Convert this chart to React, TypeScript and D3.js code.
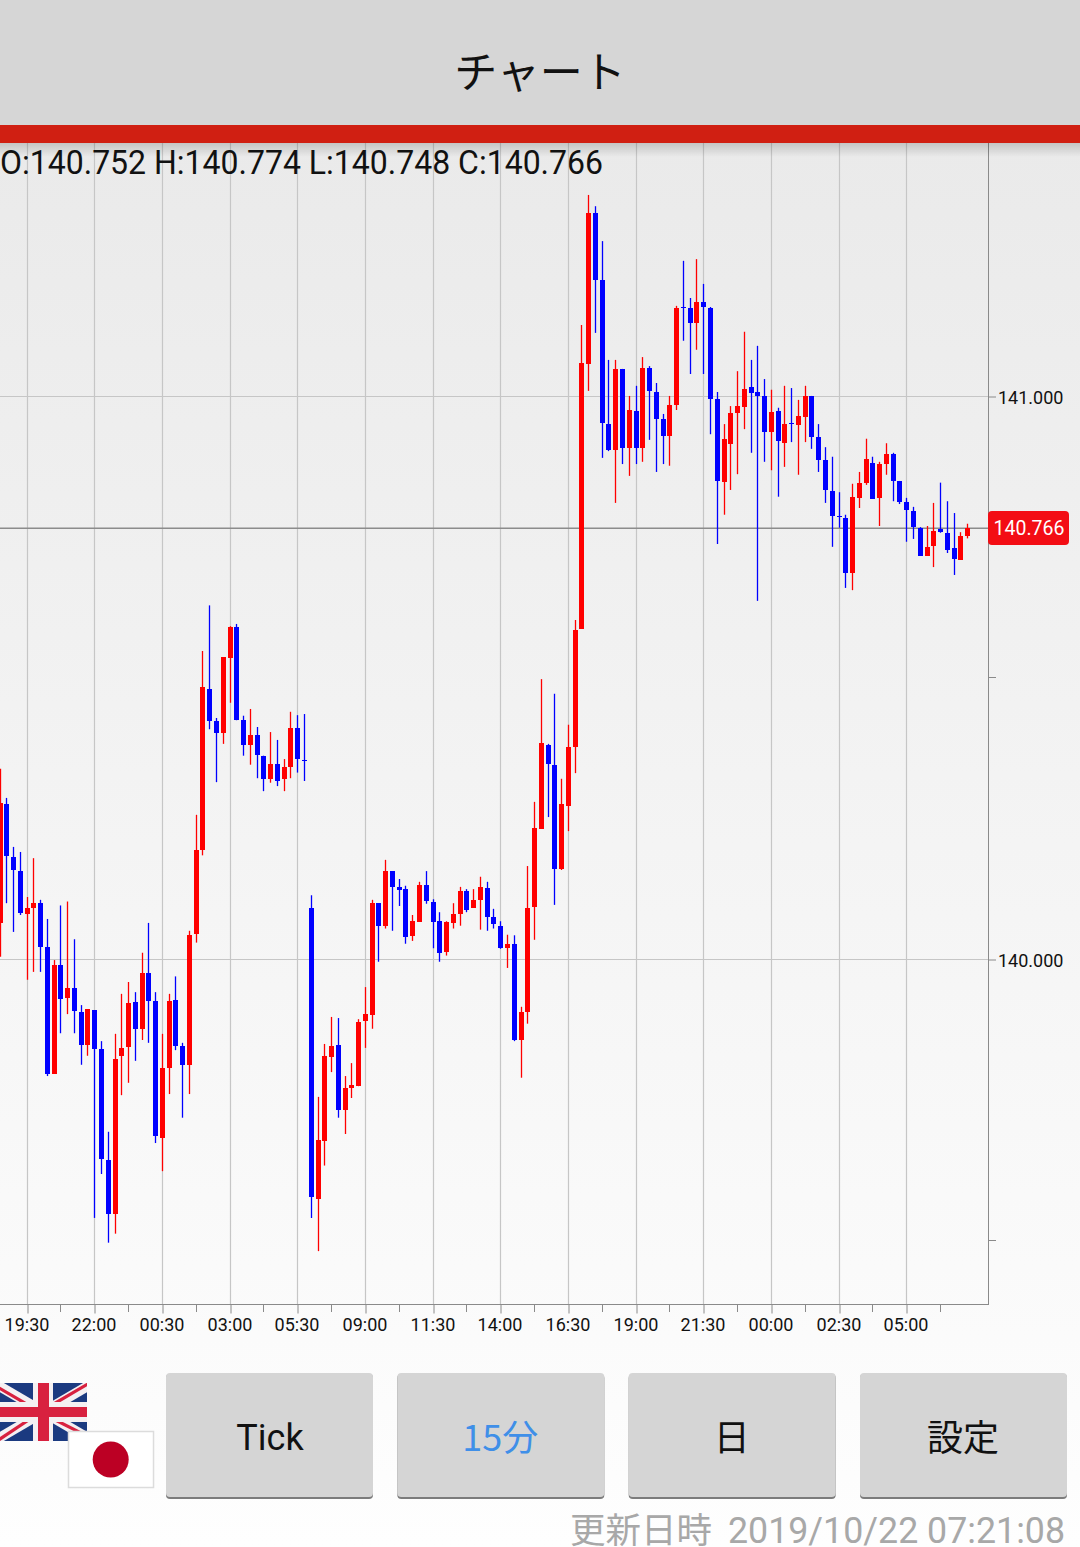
import { useRef, useEffect } from 'react';
import * as d3 from 'd3';

const opens = [
  140.065, 140.276, 140.182, 140.157, 140.081, 140.092, 140.100, 140.022, 139.797, 139.990,
  139.931, 139.949, 139.907, 139.848, 139.910, 139.841, 139.644, 139.548, 139.829, 139.845,
  139.925, 139.877, 139.976, 139.926, 139.683, 139.807, 139.928, 139.846, 139.813, 140.045,
  140.194, 140.481, 140.424, 140.402, 140.536, 140.591, 140.425, 140.381, 140.399, 140.362,
  140.321, 140.347, 140.321, 140.342, 140.411, 140.354, 140.092, 139.575, 139.678, 139.827,
  139.848, 139.733, 139.772, 139.775, 139.890, 139.901, 140.100, 140.060, 140.157, 140.129,
  140.125, 140.042, 140.067, 140.132, 140.103, 140.068, 140.014, 140.065, 140.081, 140.122,
  140.092, 140.106, 140.127, 140.075, 140.060, 140.021, 140.028, 139.857, 139.907, 140.092,
  140.233, 140.381, 140.346, 140.161, 140.274, 140.378, 140.587, 141.058, 141.326, 141.207,
  140.951, 140.905, 141.049, 140.909, 140.974, 140.909, 141.051, 141.008, 140.960, 140.930,
  140.985, 141.159, 141.157, 141.131, 141.168, 141.157, 140.996, 140.849, 140.916, 140.971,
  140.981, 141.017, 141.008, 141.001, 140.937, 140.974, 140.917, 140.953, 140.949, 140.963,
  141.001, 140.928, 140.887, 140.832, 140.788, 140.784, 140.687, 140.820, 140.846, 140.882,
  140.820, 140.880, 140.898, 140.850, 140.813, 140.797, 140.766, 140.717, 140.734, 140.765,
  140.758, 140.731, 140.710, 140.752,
];

const closes = [
  140.278, 140.184, 140.159, 140.083, 140.092, 140.100, 140.022, 139.797, 139.990, 139.930,
  139.949, 139.909, 139.848, 139.912, 139.841, 139.646, 139.548, 139.823, 139.843, 139.923,
  139.877, 139.976, 139.926, 139.687, 139.807, 139.926, 139.846, 139.813, 140.044, 140.194,
  140.484, 140.424, 140.402, 140.537, 140.591, 140.425, 140.381, 140.399, 140.363, 140.321,
  140.347, 140.317, 140.342, 140.411, 140.356, 140.353, 139.578, 139.680, 139.829, 139.846,
  139.733, 139.772, 139.777, 139.889, 139.903, 140.100, 140.060, 140.157, 140.129, 140.124,
  140.040, 140.068, 140.132, 140.103, 140.068, 140.012, 140.067, 140.081, 140.122, 140.088,
  140.106, 140.129, 140.075, 140.063, 140.021, 140.028, 139.857, 139.907, 140.092, 140.233,
  140.385, 140.347, 140.161, 140.276, 140.378, 140.585, 141.059, 141.326, 141.207, 140.953,
  140.905, 141.049, 140.909, 140.976, 140.909, 141.051, 141.010, 140.960, 140.930, 140.985,
  141.157, 141.157, 141.131, 141.168, 141.159, 140.996, 140.850, 140.925, 140.971, 140.983,
  141.013, 141.006, 141.001, 140.937, 140.973, 140.921, 140.951, 140.951, 140.965, 141.001,
  140.928, 140.887, 140.834, 140.788, 140.786, 140.687, 140.822, 140.846, 140.889, 140.818,
  140.880, 140.898, 140.850, 140.813, 140.798, 140.768, 140.717, 140.733, 140.761, 140.759,
  140.727, 140.711, 140.752, 140.766,
];

const highs = [
  140.339, 140.287, 140.200, 140.191, 140.111, 140.180, 140.106, 140.072, 139.999, 140.096,
  140.103, 140.036, 139.919, 139.912, 139.910, 139.855, 139.694, 139.868, 139.939, 139.960,
  139.942, 140.012, 140.065, 139.942, 139.868, 139.939, 139.970, 139.852, 140.051, 140.257,
  140.548, 140.629, 140.429, 140.537, 140.592, 140.596, 140.433, 140.445, 140.413, 140.362,
  140.404, 140.390, 140.356, 140.440, 140.434, 140.436, 140.114, 139.756, 139.850, 139.898,
  139.896, 139.793, 139.816, 139.894, 139.951, 140.106, 140.100, 140.177, 140.157, 140.143,
  140.131, 140.079, 140.138, 140.157, 140.107, 140.084, 140.068, 140.100, 140.129, 140.125,
  140.125, 140.147, 140.138, 140.090, 140.068, 140.044, 140.043, 139.916, 140.166, 140.280,
  140.498, 140.383, 140.472, 140.321, 140.417, 140.603, 141.127, 141.358, 141.338, 141.276,
  141.065, 141.065, 141.049, 141.001, 141.019, 141.070, 141.054, 141.024, 140.969, 141.001,
  141.161, 141.241, 141.175, 141.244, 141.200, 141.159, 141.008, 140.951, 140.983, 141.045,
  141.115, 141.065, 141.090, 141.031, 141.012, 140.980, 141.019, 141.015, 140.994, 141.019,
  141.001, 140.951, 140.910, 140.893, 140.830, 140.790, 140.845, 140.866, 140.925, 140.893,
  140.884, 140.917, 140.900, 140.850, 140.820, 140.804, 140.768, 140.770, 140.811, 140.847,
  140.814, 140.793, 140.759, 140.774,
];

const lows = [
  140.005, 140.100, 140.049, 140.079, 139.964, 139.978, 139.978, 139.793, 139.797, 139.869,
  139.903, 139.869, 139.813, 139.829, 139.541, 139.619, 139.497, 139.513, 139.759, 139.781,
  139.820, 139.857, 139.852, 139.674, 139.624, 139.761, 139.839, 139.719, 139.761, 140.030,
  140.185, 140.409, 140.315, 140.383, 140.456, 140.425, 140.362, 140.346, 140.322, 140.299,
  140.314, 140.308, 140.299, 140.322, 140.332, 140.317, 139.541, 139.482, 139.634, 139.800,
  139.719, 139.690, 139.754, 139.775, 139.843, 139.877, 139.996, 140.055, 140.051, 140.095,
  140.028, 140.033, 140.067, 140.099, 140.020, 139.996, 140.007, 140.055, 140.060, 140.084,
  140.092, 140.053, 140.051, 140.055, 140.019, 139.985, 139.855, 139.790, 139.886, 140.035,
  140.233, 140.253, 140.097, 140.159, 140.228, 140.331, 140.587, 141.010, 141.113, 140.891,
  140.903, 140.811, 140.880, 140.859, 140.880, 140.884, 140.923, 140.866, 140.880, 140.877,
  140.976, 141.099, 141.040, 141.083, 141.040, 140.933, 140.738, 140.790, 140.834, 140.862,
  140.942, 140.900, 140.637, 140.884, 140.869, 140.822, 140.875, 140.919, 140.861, 140.919,
  140.907, 140.866, 140.811, 140.733, 140.767, 140.660, 140.656, 140.802, 140.843, 140.818,
  140.770, 140.861, 140.814, 140.809, 140.742, 140.747, 140.717, 140.717, 140.697, 140.758,
  140.722, 140.683, 140.710, 140.748,
];

const timeLabels = [
  '19:30', '22:00', '00:30', '03:00', '05:30', '09:00', '11:30',
  '14:00', '16:30', '19:00', '21:30', '00:00', '02:30', '05:00',
];
const priceGrid = [140, 141];
const priceMinor = [139.5, 140.5];
const buttonLabels = ['Tick', '15分', '日', '設定'];
const ohlcText = 'O:140.752 H:140.774 L:140.748 C:140.766';
const updatedLabel = '更新日時';
const updatedStamp = '2019/10/22 07:21:08';
const lastPrice = 140.766;

const width = 1080;
const height = 1547;
const RED = '#ff0000';
const BLUE = '#0000ff';
const GRID = '#c6c6c6';
const AXIS = '#8a8a8a';
const sans = 'Roboto, sans-serif';
const cjk = '"Noto Sans CJK JP", sans-serif';

const App: React.FC = () => {
  const svgRef = useRef<SVGSVGElement | null>(null);

  useEffect(() => {
    const svg = d3.select(svgRef.current);
    svg.selectAll('*').remove();

    const plotRight = 988;
    const plotTop = 143;
    const plotBottom = 1305;

    const x = d3.scaleLinear().domain([0, opens.length - 1]).range([0, 967.6]);
    const y = d3.scaleLinear().domain([140, 141]).range([959.5, 396.5]);
    const px = (i: number) => Math.floor(x(i));
    const py = (v: number) => Math.floor(y(v) - 0.5) + 0.5;

    const defs = svg.append('defs');
    const bg = defs.append('linearGradient').attr('id', 'bg').attr('x1', 0).attr('x2', 0).attr('y1', 0).attr('y2', 1);
    bg.append('stop').attr('offset', '0%').attr('stop-color', '#eaeaea');
    bg.append('stop').attr('offset', '100%').attr('stop-color', '#fefefe');
    const shade = defs.append('linearGradient').attr('id', 'shade').attr('x1', 0).attr('x2', 0).attr('y1', 0).attr('y2', 1);
    shade.append('stop').attr('offset', '0%').attr('stop-color', '#000').attr('stop-opacity', 0.16);
    shade.append('stop').attr('offset', '100%').attr('stop-color', '#000').attr('stop-opacity', 0);

    svg.append('rect').attr('x', 0).attr('y', plotTop).attr('width', width).attr('height', height - plotTop).attr('fill', 'url(#bg)');

    // vertical grid, one line every 10 candles
    const labelIdx = timeLabels.map((_, i) => 4 + i * 10);
    const minorIdx = d3.range(9, 140, 10);
    svg.append('g').selectAll('line').data(labelIdx).enter().append('line')
      .attr('x1', d => px(d) + 0.5).attr('x2', d => px(d) + 0.5)
      .attr('y1', plotTop).attr('y2', plotBottom)
      .attr('stroke', GRID).attr('stroke-width', 1.2);

    // horizontal grid
    svg.append('g').selectAll('line').data(priceGrid).enter().append('line')
      .attr('x1', 0).attr('x2', plotRight)
      .attr('y1', d => py(d)).attr('y2', d => py(d))
      .attr('stroke', GRID).attr('stroke-width', 1.2);

    // time axis
    const xAxis = svg.append('g')
      .attr('transform', `translate(0,${plotBottom - 0.5})`)
      .call(d3.axisBottom(d3.scaleIdentity())
        .tickValues(labelIdx.map(d => px(d) + 0.5))
        .tickFormat((_, i) => timeLabels[i])
        .tickSize(9)
        .tickPadding(5)
        .tickSizeOuter(0));
    xAxis.select('.domain').remove();
    xAxis.selectAll('line').attr('stroke', AXIS);
    xAxis.selectAll('text').attr('fill', '#111').attr('dx', -1).style('font-family', sans).style('font-size', '18px');

    svg.append('line').attr('x1', 0).attr('x2', plotRight + 0.5)
      .attr('y1', plotBottom - 0.5).attr('y2', plotBottom - 0.5).attr('stroke', AXIS);
    svg.append('g').selectAll('line').data(minorIdx).enter().append('line')
      .attr('x1', d => px(d) + 0.5).attr('x2', d => px(d) + 0.5)
      .attr('y1', plotBottom).attr('y2', plotBottom + 7)
      .attr('stroke', AXIS);
    svg.append('line').attr('x1', plotRight + 0.5).attr('x2', plotRight + 0.5)
      .attr('y1', plotTop).attr('y2', plotBottom).attr('stroke', AXIS);

    // price axis
    const yAxis = svg.append('g')
      .attr('transform', `translate(${plotRight},0)`)
      .call(d3.axisRight(y).tickValues(priceGrid).tickFormat(d3.format('.3f')).tickSize(8).tickPadding(2).tickSizeOuter(0));
    yAxis.select('.domain').remove();
    yAxis.selectAll('line').attr('stroke', AXIS);
    yAxis.selectAll('text').attr('fill', '#111').attr('dy', '0.375em')
      .style('font-family', sans).style('font-size', '18px');
    svg.append('g').selectAll('line').data(priceMinor).enter().append('line')
      .attr('x1', plotRight).attr('x2', plotRight + 8)
      .attr('y1', d => py(d)).attr('y2', d => py(d))
      .attr('stroke', AXIS);

    // last price line
    svg.append('line').attr('x1', 0).attr('x2', plotRight)
      .attr('y1', y(lastPrice)).attr('y2', y(lastPrice))
      .attr('stroke', '#8c8c8c').attr('stroke-width', 1.4);

    // candles
    const color = (i: number) => (closes[i] >= opens[i] ? RED : BLUE);
    const idx = d3.range(opens.length);
    const candles = svg.append('g');
    candles.selectAll('.wick').data(idx).enter().append('line')
      .attr('class', 'wick')
      .attr('x1', d => px(d) + 0.5).attr('x2', d => px(d) + 0.5)
      .attr('y1', d => y(highs[d])).attr('y2', d => y(lows[d]))
      .attr('stroke', d => color(d)).attr('stroke-width', 1.3);
    candles.selectAll('.body').data(idx).enter().append('rect')
      .attr('class', 'body')
      .attr('x', d => px(d) - 2).attr('width', 5)
      .attr('y', d => Math.round(y(Math.max(opens[d], closes[d]))))
      .attr('height', d => Math.max(1, Math.round(Math.abs(y(opens[d]) - y(closes[d])))))
      .attr('fill', d => color(d));

    svg.append('rect').attr('x', plotRight).attr('y', 511).attr('width', 81).attr('height', 34).attr('rx', 4).attr('fill', '#f30d14');
    svg.append('text').attr('x', plotRight + 41).attr('y', 535).attr('text-anchor', 'middle')
      .attr('fill', '#fff').style('font-family', sans).style('font-size', '19.5px').text(d3.format('.3f')(lastPrice));

    // header
    svg.append('rect').attr('x', 0).attr('y', 143).attr('width', width).attr('height', 14).attr('fill', 'url(#shade)');
    svg.append('rect').attr('width', width).attr('height', 125).attr('fill', '#d6d6d6');
    svg.append('rect').attr('y', 125).attr('width', width).attr('height', 18).attr('fill', '#d01f12');
    svg.append('text').attr('x', 540).attr('y', 88).attr('text-anchor', 'middle')
      .style('font-family', cjk).style('font-size', '43px').attr('fill', '#111').text('チャート');
    svg.append('text').attr('x', 0).attr('y', 174).attr('fill', '#111')
      .attr('textLength', 603).attr('lengthAdjust', 'spacingAndGlyphs')
      .style('font-family', sans).style('font-size', '33px').text(ohlcText);

    // union jack
    const fw = 87;
    const fh = 58;
    defs.append('clipPath').attr('id', 'ukclip').append('rect').attr('width', fw).attr('height', fh);
    const ukInner = svg.append('g').attr('transform', 'translate(0,1383)').append('g').attr('clip-path', 'url(#ukclip)');
    ukInner.append('rect').attr('width', fw).attr('height', fh).attr('fill', '#1b3a80');
    const cx = fw / 2;
    const cy = fh / 2;
    ukInner.append('line').attr('x1', -6).attr('y1', 0).attr('x2', fw + 6).attr('y2', fh).attr('stroke', '#f4f0f2').attr('stroke-width', 10);
    ukInner.append('line').attr('x1', -6).attr('y1', fh).attr('x2', fw + 6).attr('y2', 0).attr('stroke', '#f4f0f2').attr('stroke-width', 10);
    // pinwheel red diagonals, each arm shifted off the white band
    [[-6, 2], [fw + 6, -2], [-6, fh + 2], [fw + 6, fh - 2]].forEach(([a, b], k) => {
      const off = k === 0 || k === 3 ? 2 : -2;
      ukInner.append('line').attr('x1', a).attr('y1', b).attr('x2', cx).attr('y2', cy + off)
        .attr('stroke', '#d8213f').attr('stroke-width', 3.2);
    });
    ukInner.append('rect').attr('x', 33).attr('width', 20).attr('height', fh).attr('fill', '#f4f0f2');
    ukInner.append('rect').attr('y', 19).attr('width', fw).attr('height', 20).attr('fill', '#f4f0f2');
    ukInner.append('rect').attr('x', 38).attr('width', 11).attr('height', fh).attr('fill', '#d8213f');
    ukInner.append('rect').attr('y', 24).attr('width', fw).attr('height', 10).attr('fill', '#d8213f');

    // japan flag
    svg.append('rect').attr('x', 68.5).attr('y', 1431.5).attr('width', 85).attr('height', 56)
      .attr('fill', '#fff').attr('stroke', '#dcdcdc').attr('stroke-width', 1.5);
    svg.append('circle').attr('cx', 110.7).attr('cy', 1459.5).attr('r', 18).attr('fill', '#bc0024');

    // buttons
    const buttonX = d3.scalePoint<string>().domain(buttonLabels).range([166, 860]);
    const buttons = svg.append('g').selectAll('g').data(buttonLabels).enter().append('g')
      .attr('transform', d => `translate(${buttonX(d)},1373)`);
    buttons.append('rect').attr('x', 0).attr('y', 1).attr('width', 207).attr('height', 125).attr('rx', 4).attr('fill', '#7c7c7c');
    buttons.append('rect').attr('width', 207).attr('height', 124).attr('rx', 4).attr('fill', '#d5d5d5');
    buttons.append('text').attr('x', d => (d === 'Tick' ? 104 : 103)).attr('y', d => (d === 'Tick' ? 77 : 78)).attr('text-anchor', 'middle')
      .style('font-family', d => (d === 'Tick' ? sans : cjk))
      .style('font-size', '36px')
      .attr('fill', d => (d === '15分' ? '#3f8fe8' : '#111'))
      .text(d => d);

    // update time
    svg.append('text').attr('x', 570).attr('y', 1543)
      .style('font-family', cjk).style('font-size', '35.5px').attr('fill', '#a8a8a8').text(updatedLabel);
    svg.append('text').attr('x', 728).attr('y', 1543)
      .attr('textLength', 337).attr('lengthAdjust', 'spacingAndGlyphs')
      .style('font-family', sans).style('font-size', '37px').attr('fill', '#a8a8a8').text(updatedStamp);
  }, []);

  return (
    <svg ref={svgRef} width={width} height={height}
      style={{ position: 'absolute', left: 0, top: 0, display: 'block' }}></svg>
  );
};

export default App;
